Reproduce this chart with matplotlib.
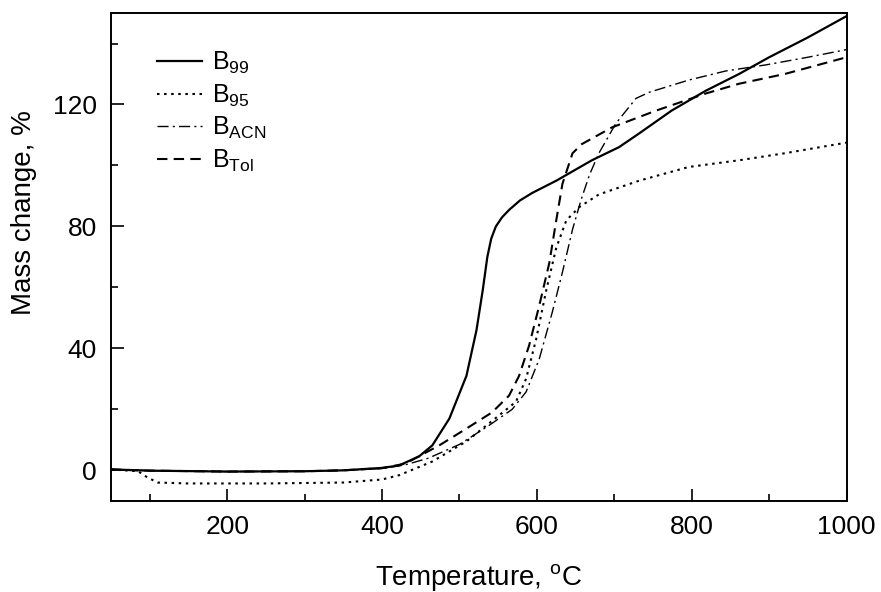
import matplotlib.pyplot as plt
from matplotlib.ticker import MultipleLocator

plt.rcParams['font.family'] = ['Liberation Sans', 'DejaVu Sans']
plt.rcParams['mathtext.fontset'] = 'custom'
plt.rcParams['mathtext.rm'] = 'Liberation Sans'
plt.rcParams['mathtext.it'] = 'Liberation Sans:italic'

t99 = [50, 100, 200, 300, 350, 400, 422, 448, 465, 487, 509, 522, 530, 536, 541, 547, 555, 564, 578, 594, 625, 671, 706, 732, 774, 818, 861, 900, 950, 1000]
m99 = [0.3, -0.1, -0.4, -0.3, 0.0, 0.8, 1.6, 4.6, 8.2, 17, 31, 46, 59, 70, 76, 80, 83, 85.4, 88.5, 91, 95, 101.7, 106, 110.5, 118, 124.5, 130, 135.5, 142, 149]

t95 = [50, 85, 95, 110, 150, 250, 350, 400, 422, 465, 509, 551, 573, 586, 599, 612, 625, 638, 655, 680, 732, 796, 861, 920, 1000]
m95 = [0.3, -0.3, -2.0, -4.0, -4.3, -4.3, -4.0, -3.0, -1.6, 2.9, 9.5, 18, 22.5, 30, 43, 59, 73, 82, 86.4, 90.5, 95, 99.5, 101.7, 104, 107.5]

tacn = [50, 100, 200, 300, 350, 400, 430, 460, 500, 538, 568, 586, 603, 620, 633, 646, 657, 668, 680, 702, 728, 745, 796, 844, 896, 950, 1000]
macn = [0.3, -0.1, -0.4, -0.3, 0.0, 0.6, 1.8, 4.0, 8.5, 14.7, 20, 25.7, 36.5, 52, 65, 79, 88.7, 97, 104, 113.8, 122, 124, 128, 131, 133, 135.5, 138]

ttol = [50, 100, 200, 300, 350, 400, 430, 474, 509, 542, 564, 577, 590, 603, 616, 625, 633, 646, 658, 697, 754, 818, 861, 920, 1000]
mtol = [0.3, -0.1, -0.4, -0.3, 0.0, 0.7, 2.2, 8.2, 13.7, 19, 24.5, 31, 41, 54, 68, 82, 94, 104, 107, 112.5, 118, 123.6, 126.8, 130, 135.5]

fig = plt.figure(figsize=(8.81, 5.92), dpi=100)
ax = fig.add_axes([0.126, 0.154, 0.835, 0.824])

ax.plot(t99, m99, color='black', linestyle='-', linewidth=1.6, label='B$_{\\mathrm{99}}$')
ax.plot(t95, m95, color='black', linestyle=(0, (1.2, 2.2)), linewidth=1.5, label='B$_{\\mathrm{95}}$')
ax.plot(tacn, macn, color='black', linestyle=(0, (8, 3, 1.5, 3)), linewidth=1.0, label='B$_{\\mathrm{ACN}}$')
ax.plot(ttol, mtol, color='black', linestyle=(0, (5, 3)), linewidth=1.5, label='B$_{\\mathrm{Tol}}$')

ax.set_xlim(50, 1000)
ax.set_ylim(-10, 150)
ax.xaxis.set_major_locator(MultipleLocator(200))
ax.xaxis.set_minor_locator(MultipleLocator(100))
ax.yaxis.set_major_locator(MultipleLocator(40))
ax.yaxis.set_minor_locator(MultipleLocator(20))
ax.tick_params(which='major', direction='in', length=9, width=1.2, labelsize=19, pad=10)
ax.tick_params(which='minor', direction='in', length=5, width=1.2)
for s in ax.spines.values():
    s.set_linewidth(1.4)

ax.set_xlabel('Temperature, $^{\\mathrm{o}}$C', fontsize=20, labelpad=17)
ax.set_ylabel('Mass change, %', fontsize=20)
ax.yaxis.set_label_coords(-0.10, 0.59)

ax.legend(loc='upper left', bbox_to_anchor=(0.032, 0.97), frameon=False, fontsize=18,
          handlelength=1.8, handletextpad=0.4, labelspacing=0.25)

fig.savefig('out.png', dpi=100)
